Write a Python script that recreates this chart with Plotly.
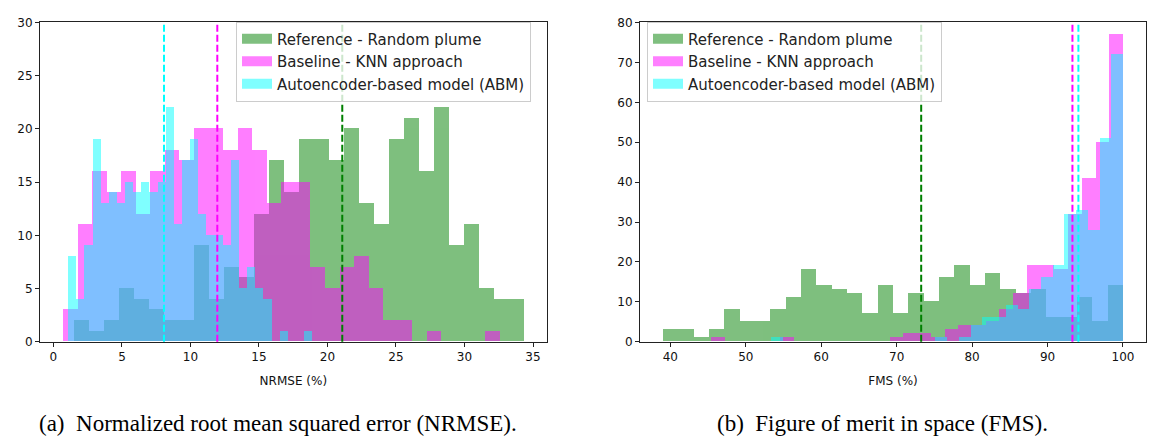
import numpy as np
import plotly.graph_objects as go

# ---------------- data: NRMSE (%) panel ----------------
nrmse_ref_counts = [2, 1, 2, 5, 4, 3, 2, 2, 9, 4, 7, 6, 12, 17, 14, 19, 19, 17, 20, 13,
                    11, 19, 21, 16, 22, 9, 11, 5, 4, 4]
nrmse_ref_min, nrmse_ref_max = 1.50, 34.32
nrmse_knn_counts = [3, 11, 16, 14, 16, 12, 16, 18, 17, 20, 20, 18, 20, 18, 13, 15, 15, 7, 5, 7,
                    8, 5, 2, 2, 0, 1, 0, 0, 0, 1]
nrmse_knn_min, nrmse_knn_max = 0.70, 32.56
nrmse_abm_counts = [8, 4, 9, 19, 13, 14, 13, 15, 14, 15, 14, 15, 22, 11, 17, 19, 12, 10, 10, 9,
                    17, 5, 7, 5, 4, 0, 1, 0, 0, 1]
nrmse_abm_min, nrmse_abm_max = 1.07, 18.89
nrmse_ref_mean = 21.08
nrmse_knn_mean = 11.96
nrmse_abm_mean = 8.07

# ---------------- data: FMS (%) panel ----------------
fms_ref_counts = [3, 3, 1, 3, 8, 5, 5, 8, 11, 18, 14, 13, 12, 7, 14, 7, 12, 10, 16, 19,
                  14, 17, 13, 12, 13, 6, 6, 11, 5, 14]
fms_ref_min, fms_ref_max = 39.03, 100.0
fms_knn_counts = [1, 0, 0, 0, 0, 1, 0, 0, 0, 0, 0, 0, 0, 1, 2, 2, 1, 3, 4, 4,
                  5, 8, 12, 19, 19, 18, 32, 41, 50, 77]
fms_knn_min, fms_knn_max = 45.43, 100.0
fms_abm_counts = [1, 0, 0, 0, 0, 0, 0, 0, 0, 0, 0, 0, 0, 0, 1, 0, 1, 4, 6, 6,
                  9, 8, 13, 16, 19, 32, 33, 28, 51, 72]
fms_abm_min, fms_abm_max = 53.40, 100.0
fms_ref_mean = 73.25
fms_knn_mean = 93.30
fms_abm_mean = 94.09

series_names = ["Reference - Random plume", "Baseline - KNN approach", "Autoencoder-based model (ABM)"]
series_colors = ["#008000", "#ff00ff", "#00ffff"]
series_fill = ["rgba(0,128,0,0.5)", "rgba(255,0,255,0.5)", "rgba(0,255,255,0.5)"]

x_titles = ["NRMSE (%)", "FMS (%)"]
captions = ["(a)  Normalized root mean squared error (NRMSE).", "(b)  Figure of merit in space (FMS)."]

W, H = 1155, 441
fig = go.Figure()


def add_hist(counts, lo, hi, name, color, xa, ya):
    edges = np.linspace(lo, hi, len(counts) + 1)
    centers = (edges[:-1] + edges[1:]) / 2
    widths = np.diff(edges)
    fig.add_trace(go.Bar(
        x=centers, y=counts, width=widths, name=name,
        marker=dict(color=color, line=dict(width=0)), opacity=0.5,
        xaxis=xa, yaxis=ya, showlegend=False,
    ))


panels = [
    ("x", "y", "legend",
     [(nrmse_ref_counts, nrmse_ref_min, nrmse_ref_max),
      (nrmse_knn_counts, nrmse_knn_min, nrmse_knn_max),
      (nrmse_abm_counts, nrmse_abm_min, nrmse_abm_max)],
     [nrmse_ref_mean, nrmse_knn_mean, nrmse_abm_mean]),
    ("x2", "y2", "legend2",
     [(fms_ref_counts, fms_ref_min, fms_ref_max),
      (fms_knn_counts, fms_knn_min, fms_knn_max),
      (fms_abm_counts, fms_abm_min, fms_abm_max)],
     [fms_ref_mean, fms_knn_mean, fms_abm_mean]),
]

for xa, ya, leg, hists, means in panels:
    for (c, lo, hi), nm, col in zip(hists, series_names, series_colors):
        add_hist(c, lo, hi, nm, col, xa, ya)
    # legend patches (wide rectangles like matplotlib's)
    for nm, fill in zip(series_names, series_fill):
        fig.add_trace(go.Scatter(x=[None], y=[None], mode="lines", name=nm,
                                 line=dict(color=fill, width=10), xaxis=xa, yaxis=ya,
                                 legend=leg, showlegend=True, hoverinfo="skip"))
    for m, col in zip(means, series_colors):
        fig.add_shape(type="line", xref=xa, yref=ya + " domain", x0=m, x1=m, y0=0, y1=1,
                      line=dict(color=col, width=2, dash="7px,3px"), layer="above")

axis_font = dict(family="DejaVu Sans", size=12, color="#111")
common_x = dict(showline=True, linecolor="#222", linewidth=1, mirror=True, ticks="outside",
                ticklen=4, tickcolor="#222", showgrid=False, zeroline=False, tickfont=axis_font,
                title_font=axis_font, title_standoff=13)
common_y = dict(showline=True, linecolor="#222", linewidth=1, mirror=True, ticks="outside",
                ticklen=4, tickcolor="#222", showgrid=False, zeroline=False, tickfont=axis_font)

y_top = 1 - 16 / H
y_bot = 1 - 345.7 / H

legend_style = dict(bgcolor="rgba(255,255,255,0.8)", bordercolor="#cccccc", borderwidth=1,
                    font=dict(family="DejaVu Sans", size=15, color="#222"),
                    xanchor="left", yanchor="top", tracegroupgap=0, itemwidth=30)

fig.update_layout(
    width=W, height=H, margin=dict(l=0, r=0, t=0, b=0),
    paper_bgcolor="white", plot_bgcolor="white", barmode="overlay", bargap=0,
    xaxis=dict(domain=[40 / W, 546.7 / W], range=[-0.98, 36.0], tickvals=list(range(0, 36, 5)),
               title_text=x_titles[0], anchor="y", **common_x),
    yaxis=dict(domain=[y_bot, y_top], range=[0, 30], tickvals=list(range(0, 31, 5)),
               anchor="x", **common_y),
    xaxis2=dict(domain=[640 / W, 1146 / W], range=[35.98, 103.05], tickvals=list(range(40, 101, 10)),
                title_text=x_titles[1], anchor="y2", **common_x),
    yaxis2=dict(domain=[y_bot, y_top], range=[0, 80], tickvals=list(range(0, 81, 10)),
                anchor="x2", **common_y),
    legend=dict(x=236 / W, y=1 - 15 / H, **legend_style),
    legend2=dict(x=647 / W, y=1 - 15 / H, **legend_style),
)

for cap, cx in zip(captions, [278 / W, 882 / W]):
    fig.add_annotation(text=cap, xref="paper", yref="paper", x=cx, y=1 - 430 / H,
                       xanchor="center", yanchor="middle", showarrow=False,
                       font=dict(family="Liberation Serif", size=23, color="#000"))

fig.write_html("out.html")
